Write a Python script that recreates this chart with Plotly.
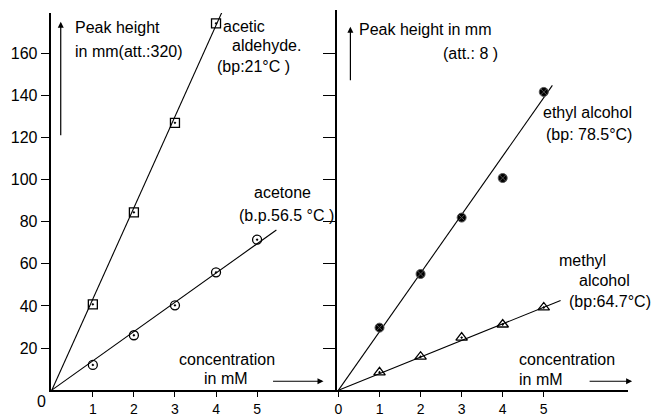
import plotly.graph_objects as go

# ---------------- data ----------------
conc = [1, 2, 3, 4, 5]
aldehyde_x = [1, 2, 3, 4]
aldehyde_y = [40.8, 84.5, 127, 174.3]
acetone_y = [12, 26.1, 40.3, 56, 71.5]
ethyl_y = [29.7, 55.2, 82, 100.8, 141.7]
methyl_y = [8.5, 15.9, 25, 31.2, 39.3]

aldehyde_fit_x = [0, 4.14]
aldehyde_fit_y = [0, 179.4]
acetone_fit_x = [0, 5.47]
acetone_fit_y = [0, 76.1]
ethyl_fit_x = [0, 5.21]
ethyl_fit_y = [0, 144.8]
methyl_fit_x = [0, 5.41]
methyl_fit_y = [0, 42.6]

y_ticks = [20, 40, 60, 80, 100, 120, 140, 160]
left_x_ticks = [1, 2, 3, 4, 5]
right_x_ticks = [0, 1, 2, 3, 4, 5]

W, H = 655, 417
FONT = "Liberation Sans"
FS = 16


def px(x):
    return x / W


def py(y):
    return 1 - y / H


fig = go.Figure()

line_style = dict(color="black", width=1.1)
mk = dict(color="black", size=9, line=dict(color="black", width=1.3))

# left panel
fig.add_trace(go.Scatter(x=aldehyde_fit_x, y=aldehyde_fit_y, mode="lines", line=line_style,
                         xaxis="x", yaxis="y", showlegend=False))
fig.add_trace(go.Scatter(x=acetone_fit_x, y=acetone_fit_y, mode="lines", line=line_style,
                         xaxis="x", yaxis="y", showlegend=False))
fig.add_trace(go.Scatter(x=aldehyde_x, y=aldehyde_y, mode="markers",
                         marker=dict(mk, symbol="square-open-dot", size=9),
                         xaxis="x", yaxis="y", showlegend=False))
fig.add_trace(go.Scatter(x=conc, y=acetone_y, mode="markers",
                         marker=dict(mk, symbol="circle-open-dot", size=9),
                         xaxis="x", yaxis="y", showlegend=False))

# right panel
fig.add_trace(go.Scatter(x=ethyl_fit_x, y=ethyl_fit_y, mode="lines", line=line_style,
                         xaxis="x2", yaxis="y2", showlegend=False))
fig.add_trace(go.Scatter(x=methyl_fit_x, y=methyl_fit_y, mode="lines", line=line_style,
                         xaxis="x2", yaxis="y2", showlegend=False))
fig.add_trace(go.Scatter(x=conc, y=ethyl_y, mode="markers",
                         marker=dict(color="black", size=9, symbol="circle-x",
                                     line=dict(color="#555", width=1)),
                         xaxis="x2", yaxis="y2", showlegend=False))
fig.add_trace(go.Scatter(x=conc, y=methyl_y, mode="markers",
                         marker=dict(mk, symbol="triangle-up-open-dot", size=10),
                         xaxis="x2", yaxis="y2", showlegend=False))

XS = 41.25
YS = 2.12
x0_left, x0_right, y0 = 49, 337, 393

axis_common = dict(showgrid=False, zeroline=False, showline=True, linecolor="black",
                   ticks="outside", tickcolor="black",
                   tickfont=dict(family=FONT, size=FS, color="black"))
xtickfont = dict(family=FONT, size=14, color="black")

fig.update_layout(
    width=W, height=H,
    margin=dict(l=0, r=0, t=0, b=0),
    paper_bgcolor="white", plot_bgcolor="white",
    font=dict(family=FONT, size=FS, color="black"),
    xaxis=dict(axis_common, domain=[px(48), px(336)],
               range=[(48 - x0_left) / XS, (336 - x0_left) / XS],
               tickvals=left_x_ticks, ticklen=5, linewidth=1.5,
               tickfont=xtickfont, ticklabelstandoff=0, anchor="y"),
    yaxis=dict(axis_common, domain=[py(y0), py(13)],
               range=[0, (y0 - 13) / YS],
               tickvals=y_ticks, ticklen=8, linewidth=2.2, anchor="x"),
    xaxis2=dict(axis_common, domain=[px(336), px(628)],
                range=[(336 - x0_right) / XS, (628 - x0_right) / XS],
                tickvals=right_x_ticks, ticklen=5, linewidth=1.5,
                tickfont=xtickfont, ticklabelstandoff=0, anchor="y2"),
    yaxis2=dict(axis_common, domain=[py(y0), py(10)],
                range=[0, (y0 - 10) / YS],
                tickvals=y_ticks, ticklen=13, linewidth=1.5,
                showticklabels=False, anchor="x2"),
)

texts = [
    ("Peak height", 70, 28),
    ("in mm(att.:320)", 70, 52),
    ("acetic", 219, 27),
    ("aldehyde.", 228, 46),
    ("(bp:21°C )", 213, 67),
    ("acetone", 250, 194),
    ("(b.p.56.5 °C )", 235, 217),
    ("concentration", 175, 362),
    ("in mM", 200, 381),
    ("0", 32, 404),
    ("Peak height in mm", 356, 30),
    ("(att.: 8 )", 440, 54),
    ("ethyl alcohol", 540, 113),
    ("(bp: 78.5°C)", 543, 135),
    ("methyl", 557, 262),
    ("alcohol", 577, 283),
    ("(bp:64.7°C)", 567, 304),
    ("concentration", 516, 362),
    ("in mM", 516, 382),
]
for t, x, y in texts:
    fig.add_annotation(text=t, x=px(x), y=py(y), xref="paper", yref="paper",
                       xanchor="left", yanchor="middle", showarrow=False,
                       font=dict(family=FONT, size=FS, color="black"))

arrows = [
    (58, 22, 58, 137),
    (349, 27, 349, 82),
    (322, 384, 270, 384),
    (632, 384, 588, 384),
]
for hx, hy, tx, ty in arrows:
    fig.add_annotation(x=px(hx), y=py(hy), xref="paper", yref="paper",
                       ax=tx - hx, ay=ty - hy, axref="pixel", ayref="pixel",
                       text="", showarrow=True, arrowhead=2, arrowsize=1,
                       arrowwidth=1.2, arrowcolor="black")

fig.write_html("out.html",
               config={"displayModeBar": False},
               post_script="document.body.style.margin='0';document.body.style.overflow='hidden';")
